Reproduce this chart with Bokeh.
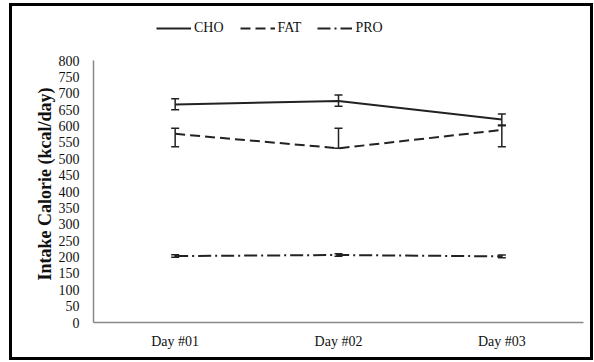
from bokeh.plotting import figure
from bokeh.models import ColumnDataSource, Whisker, Legend, LegendItem, Range1d, FactorRange, Title
from bokeh.embed import file_html
from bokeh.resources import INLINE

days = ["Day #01", "Day #02", "Day #03"]
cho = [666, 676, 620]
cho_upper = [683, 695, 637]
cho_lower = [650, 660, 603]
fat = [576, 532, 588]
fat_upper = [593, 593, 601]
fat_lower = [537, 532, 537]
pro = [203, 206, 202]
pro_upper = [207, 210, 206]
pro_lower = [199, 202, 198]
y_ticks = list(range(0, 801, 50))

FONT = "Liberation Serif"
INK = "#222222"

p = figure(width=578, height=351, x_range=FactorRange(*days, range_padding=0),
           y_range=Range1d(0, 946.6), output_backend="svg", toolbar_location=None,
           min_border_left=81, min_border_right=7, min_border_top=6, min_border_bottom=35)
p.styles = {"position": "relative", "left": "12px", "top": "6px",
            "outline": "3px solid black", "outline-offset": "0px"}
p.outline_line_color = None
p.xgrid.grid_line_color = None
p.ygrid.grid_line_color = None

src = ColumnDataSource(dict(x=days, cho=cho, chou=cho_upper, chol=cho_lower,
                            fat=fat, fatu=fat_upper, fatl=fat_lower,
                            pro=pro, prou=pro_upper, prol=pro_lower))

r1 = p.line("x", "cho", source=src, line_color=INK, line_width=2)
r2 = p.line("x", "fat", source=src, line_color=INK, line_width=2, line_dash="10 5")
r3 = p.line("x", "pro", source=src, line_color=INK, line_width=2, line_dash="13 4 2 4")

for up, lo in [("chou", "chol"), ("fatu", "fatl"), ("prou", "prol")]:
    w = Whisker(source=src, base="x", upper=up, lower=lo, line_color=INK, line_width=1.5)
    w.upper_head.size = 8
    w.lower_head.size = 8
    w.upper_head.line_color = INK
    w.lower_head.line_color = INK
    w.upper_head.line_width = 1.5
    w.lower_head.line_width = 1.5
    p.add_layout(w)

p.yaxis.ticker = y_ticks
p.yaxis.bounds = (0, 800)
for ax in (p.xaxis[0], p.yaxis[0]):
    ax.axis_line_color = "#888888"
    ax.axis_line_width = 1.5
    ax.major_tick_line_color = None
    ax.minor_tick_line_color = None
    ax.major_label_text_font = FONT
    ax.major_label_text_font_size = "14px"
    ax.major_label_text_color = "#111111"
p.xaxis.major_label_standoff = 5
p.yaxis.major_label_standoff = 8

ylab = Title(text="Intake Calorie (kcal/day)", align="left", offset=42,
             text_font=FONT, text_font_style="bold", text_font_size="18px",
             text_color="#111111", standoff=1)
p.add_layout(ylab, "left")

legend = Legend(items=[LegendItem(label="CHO", renderers=[r1]),
                       LegendItem(label="FAT", renderers=[r2]),
                       LegendItem(label="PRO", renderers=[r3])],
                orientation="horizontal", location=(63, 286),
                label_text_font=FONT, label_text_font_size="14px", label_text_color="#111111",
                glyph_width=35, glyph_height=14, spacing=16, label_standoff=3,
                border_line_color=None, background_fill_alpha=0, padding=2, margin=0)
p.add_layout(legend)

open("out.html", "w").write(file_html(p, INLINE))
